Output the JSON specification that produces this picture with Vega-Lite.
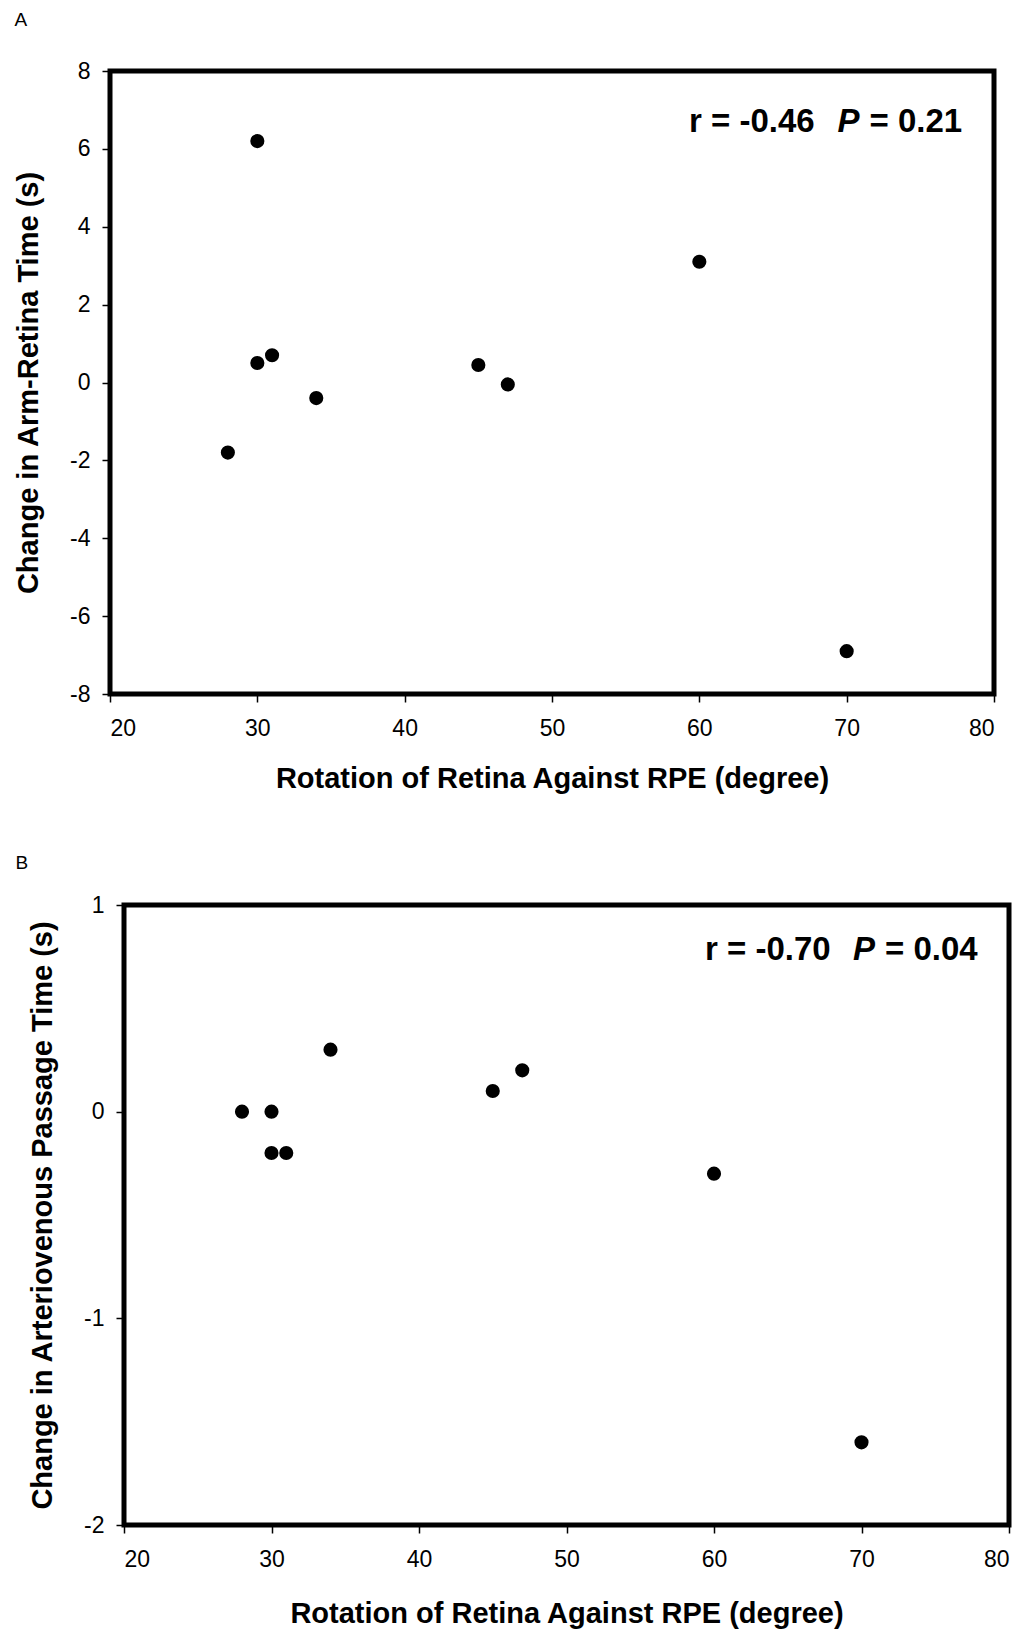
{
  "$schema": "https://vega.github.io/schema/vega-lite/v6.json",
  "padding": {"left": 12, "top": 8, "right": 5, "bottom": 5},
  "background": "white",
  "datasets": {
    "a": [
      {"rotation": 28, "change": -1.8},
      {"rotation": 30, "change": 6.2},
      {"rotation": 30, "change": 0.5},
      {"rotation": 31, "change": 0.7},
      {"rotation": 34, "change": -0.4},
      {"rotation": 45, "change": 0.45},
      {"rotation": 47, "change": -0.05},
      {"rotation": 60, "change": 3.1},
      {"rotation": 70, "change": -6.9}
    ],
    "b": [
      {"rotation": 28, "change": 0},
      {"rotation": 30, "change": 0},
      {"rotation": 30, "change": -0.2},
      {"rotation": 31, "change": -0.2},
      {"rotation": 34, "change": 0.3},
      {"rotation": 45, "change": 0.1},
      {"rotation": 47, "change": 0.2},
      {"rotation": 60, "change": -0.3},
      {"rotation": 70, "change": -1.6}
    ],
    "annA": [
      {"x": 59.3, "y": 6.7, "t": "r = -0.46"},
      {"x": 71.55, "y": 6.7, "t": "= 0.21"}
    ],
    "annAP": [
      {"x": 69.38, "y": 6.7, "t": "P"}
    ],
    "annB": [
      {"x": 59.39, "y": 0.78, "t": "r = -0.70"},
      {"x": 71.59, "y": 0.78, "t": "= 0.04"}
    ],
    "annBP": [
      {"x": 69.42, "y": 0.78, "t": "P"}
    ],
    "empty": []
  },
  "columns": 1,
  "spacing": 55,
  "concat": [
    {
      "title": {"text": "A", "anchor": "start", "frame": "bounds", "fontSize": 19, "fontWeight": "normal", "font": "Liberation Sans", "offset": 30, "color": "black"},
      "width": 884,
      "height": 623,
      "layer": [
        {
          "data": {"name": "a"},
          "mark": {"type": "circle", "size": 200, "color": "black", "opacity": 1},
          "encoding": {
            "x": {"field": "rotation", "type": "quantitative", "scale": {"domain": [20, 80], "nice": false, "zero": false}, "axis": {"values": [20, 30, 40, 50, 60, 70, 80], "title": "Rotation of Retina Against RPE (degree)"}},
            "y": {"field": "change", "type": "quantitative", "scale": {"domain": [-8, 8], "nice": false, "zero": false}, "axis": {"values": [-8, -6, -4, -2, 0, 2, 4, 6, 8], "format": "d", "labelExpr": "replace(datum.label, '−', '-')", "title": "Change in Arm-Retina Time (s)"}}
          }
        },
        {
          "data": {"name": "annA"},
          "mark": {"type": "text", "align": "left", "baseline": "middle", "fontSize": 33, "fontWeight": "bold", "font": "Liberation Sans", "color": "black"},
          "encoding": {
            "x": {"field": "x", "type": "quantitative"},
            "y": {"field": "y", "type": "quantitative"},
            "text": {"field": "t"}
          }
        },
        {
          "data": {"name": "annAP"},
          "mark": {"type": "text", "align": "left", "baseline": "middle", "fontSize": 33, "fontWeight": "bold", "fontStyle": "italic", "font": "Liberation Sans", "color": "black"},
          "encoding": {
            "x": {"field": "x", "type": "quantitative"},
            "y": {"field": "y", "type": "quantitative"},
            "text": {"field": "t"}
          }
        }
      ]
    },
    {
      "columns": 2,
      "spacing": -98,
      "concat": [
        {
          "data": {"name": "empty"},
          "width": 1,
          "height": 620,
          "view": {"stroke": null},
          "mark": {"type": "point"},
          "encoding": {}
        },
        {
          "title": {"text": "B", "anchor": "start", "frame": "bounds", "fontSize": 19, "fontWeight": "normal", "font": "Liberation Sans", "offset": 21, "dx": -13, "color": "black"},
          "width": 885,
          "height": 620,
          "layer": [
            {
              "data": {"name": "b"},
              "mark": {"type": "circle", "size": 200, "color": "black", "opacity": 1},
              "encoding": {
                "x": {"field": "rotation", "type": "quantitative", "scale": {"domain": [20, 80], "nice": false, "zero": false}, "axis": {"values": [20, 30, 40, 50, 60, 70, 80], "title": "Rotation of Retina Against RPE (degree)", "titlePadding": 28}},
                "y": {"field": "change", "type": "quantitative", "scale": {"domain": [-2, 1], "nice": false, "zero": false}, "axis": {"values": [-2, -1, 0, 1], "format": "d", "labelExpr": "replace(datum.label, '−', '-')", "title": "Change in Arteriovenous Passage Time (s)"}}
              }
            },
            {
              "data": {"name": "annB"},
              "mark": {"type": "text", "align": "left", "baseline": "middle", "fontSize": 33, "fontWeight": "bold", "font": "Liberation Sans", "color": "black"},
              "encoding": {
                "x": {"field": "x", "type": "quantitative"},
                "y": {"field": "y", "type": "quantitative"},
                "text": {"field": "t"}
              }
            },
            {
              "data": {"name": "annBP"},
              "mark": {"type": "text", "align": "left", "baseline": "middle", "fontSize": 33, "fontWeight": "bold", "fontStyle": "italic", "font": "Liberation Sans", "color": "black"},
              "encoding": {
                "x": {"field": "x", "type": "quantitative"},
                "y": {"field": "y", "type": "quantitative"},
                "text": {"field": "t"}
              }
            }
          ]
        }
      ]
    }
  ],
  "config": {
    "view": {"stroke": "black", "strokeWidth": 5},
    "axis": {
      "domain": false,
      "grid": false,
      "ticks": true,
      "tickColor": "black",
      "tickSize": 8,
      "tickWidth": 1.5,
      "labelColor": "black",
      "labelFont": "Liberation Sans",
      "labelFontSize": 23,
      "titleColor": "black",
      "titleFont": "Liberation Sans",
      "titleFontSize": 29,
      "titleFontWeight": "bold"
    },
    "axisX": {"labelPadding": 15, "titlePadding": 24},
    "axisY": {"labelPadding": 12, "titlePadding": 26}
  }
}
